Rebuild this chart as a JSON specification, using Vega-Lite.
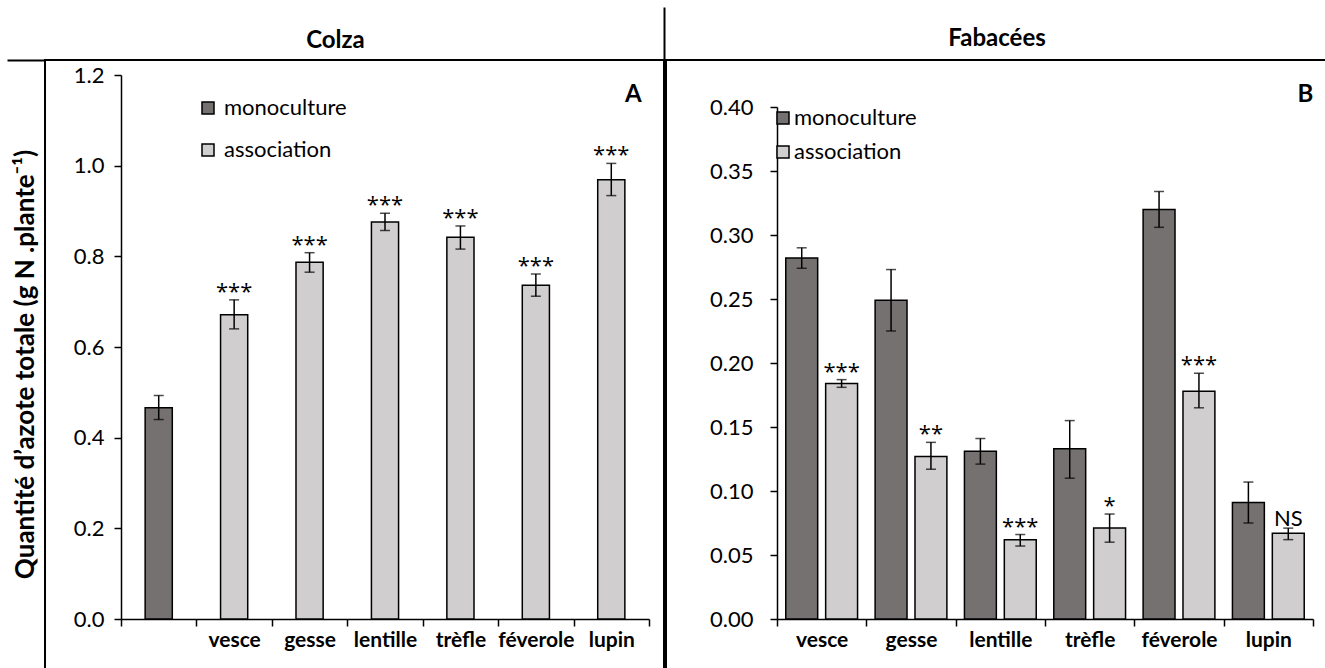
{
  "$schema": "https://vega.github.io/schema/vega-lite/v6.json",
  "background": "white",
  "padding": {"left": 6, "top": 26, "right": 0, "bottom": 0},
  "datasets": {
    "colza": [
      {"cat": "colza", "type": "monoculture", "mean": 0.466, "lo": 0.440, "hi": 0.493, "sig": ""},
      {"cat": "vesce", "type": "association", "mean": 0.671, "lo": 0.640, "hi": 0.704, "sig": "***"},
      {"cat": "gesse", "type": "association", "mean": 0.787, "lo": 0.765, "hi": 0.808, "sig": "***"},
      {"cat": "lentille", "type": "association", "mean": 0.876, "lo": 0.857, "hi": 0.895, "sig": "***"},
      {"cat": "trèfle", "type": "association", "mean": 0.842, "lo": 0.816, "hi": 0.867, "sig": "***"},
      {"cat": "féverole", "type": "association", "mean": 0.736, "lo": 0.712, "hi": 0.761, "sig": "***"},
      {"cat": "lupin", "type": "association", "mean": 0.969, "lo": 0.934, "hi": 1.005, "sig": "***"}
    ],
    "fabacees": [
      {"cat": "vesce", "type": "monoculture", "mean": 0.282, "lo": 0.274, "hi": 0.290, "sig": ""},
      {"cat": "vesce", "type": "association", "mean": 0.184, "lo": 0.181, "hi": 0.187, "sig": "***"},
      {"cat": "gesse", "type": "monoculture", "mean": 0.249, "lo": 0.225, "hi": 0.273, "sig": ""},
      {"cat": "gesse", "type": "association", "mean": 0.127, "lo": 0.117, "hi": 0.138, "sig": "**"},
      {"cat": "lentille", "type": "monoculture", "mean": 0.131, "lo": 0.121, "hi": 0.141, "sig": ""},
      {"cat": "lentille", "type": "association", "mean": 0.062, "lo": 0.057, "hi": 0.066, "sig": "***"},
      {"cat": "trèfle", "type": "monoculture", "mean": 0.133, "lo": 0.110, "hi": 0.155, "sig": ""},
      {"cat": "trèfle", "type": "association", "mean": 0.071, "lo": 0.060, "hi": 0.082, "sig": "*"},
      {"cat": "féverole", "type": "monoculture", "mean": 0.320, "lo": 0.306, "hi": 0.334, "sig": ""},
      {"cat": "féverole", "type": "association", "mean": 0.178, "lo": 0.165, "hi": 0.192, "sig": "***"},
      {"cat": "lupin", "type": "monoculture", "mean": 0.091, "lo": 0.075, "hi": 0.107, "sig": ""},
      {"cat": "lupin", "type": "association", "mean": 0.067, "lo": 0.062, "hi": 0.071, "sig": "NS"}
    ]
  },
  "config": {
    "font": "Lato",
    "view": {"stroke": "black", "strokeWidth": 2},
    "axis": {
      "domainColor": "black", "domainWidth": 1.5, "tickColor": "black", "tickWidth": 1.5, "tickSize": 7,
      "labelColor": "black", "labelFont": "Lato", "labelFontSize": 22, "grid": false, "titleColor": "black"
    },
    "title": {"font": "Lato", "fontSize": 24, "fontWeight": "bold", "color": "black"},
    "legend": {
      "title": null, "orient": "none", "labelFont": "Lato", "labelFontSize": 22, "labelColor": "black",
      "symbolType": "square", "symbolSize": 144, "symbolStrokeColor": "black", "symbolStrokeWidth": 1.5,
      "padding": 0
    }
  },
  "spacing": 0,
  "resolve": {"scale": {"color": "independent"}, "legend": {"color": "independent"}},
  "hconcat": [
    {
      "width": 619,
      "height": 609,
      "title": {"text": "Colza", "anchor": "middle", "frame": "group", "dx": -19, "offset": -18, "baseline": "alphabetic"},
      "resolve": {"scale": {"x": "independent", "y": "independent"}},
      "layer": [
        {
          "data": {"name": "colza"},
          "encoding": {
            "x": {
              "field": "cat", "type": "nominal",
              "sort": ["colza", "vesce", "gesse", "lentille", "trèfle", "féverole", "lupin"],
              "scale": {"range": [76, 604], "paddingInner": 0, "paddingOuter": 0},
              "axis": {
                "title": null, "orient": "bottom", "offset": -50, "tickBand": "extent", "labelAngle": 0,
                "labelExpr": "datum.value == 'colza' ? '' : datum.value",
                "labelFontWeight": "bold", "labelFontSize": 21, "labelPadding": 3
              }
            }
          },
          "layer": [
            {
              "mark": {"type": "bar", "width": {"band": 0.36}, "stroke": "black", "strokeWidth": 1.5},
              "encoding": {
                "y": {
                  "field": "mean", "type": "quantitative",
                  "scale": {"domain": [0, 1.2], "range": [559, 15], "nice": false},
                  "axis": {
                    "values": [0, 0.2, 0.4, 0.6, 0.8, 1.0, 1.2], "format": ".1f", "offset": -76, "labelPadding": 10,
                    "title": "Quantité d’azote totale (g N .plante⁻¹)",
                    "titleFont": "Lato", "titleFontSize": 26, "titleFontWeight": "bold",
                    "titleX": -96, "titleY": 304, "titleAngle": 270, "titleAlign": "center", "titleBaseline": "middle"
                  }
                },
                "color": {
                  "field": "type", "type": "nominal",
                  "scale": {"domain": ["monoculture", "association"], "range": ["#767171", "#D0CECE"]},
                  "legend": {"legendX": 152, "legendY": 37, "rowPadding": 20, "labelOffset": 5}
                }
              }
            },
            {
              "mark": {"type": "rule", "color": "black", "strokeWidth": 1.5},
              "encoding": {"y": {"field": "lo", "type": "quantitative"}, "y2": {"field": "hi"}}
            },
            {
              "mark": {"type": "tick", "color": "black", "thickness": 1.5, "size": 10},
              "encoding": {"y": {"field": "lo", "type": "quantitative"}}
            },
            {
              "mark": {"type": "tick", "color": "black", "thickness": 1.5, "size": 10},
              "encoding": {"y": {"field": "hi", "type": "quantitative"}}
            },
            {
              "mark": {"type": "text", "font": "Open Sans", "fontSize": 22, "baseline": "alphabetic", "align": "center", "dy": -1, "color": "black"},
              "encoding": {"y": {"field": "hi", "type": "quantitative"}, "text": {"field": "sig"}}
            },
            {
              "data": {"values": [{}]},
              "mark": {"type": "text", "font": "Lato", "fontSize": 24, "fontWeight": "bold", "baseline": "middle", "align": "center", "dx": 22, "color": "black"},
              "encoding": {"x": {"datum": "lupin"}, "y": {"datum": 1.156}, "text": {"value": "A"}}
            }
          ]
        },
        {
          "data": {"values": [{}]},
          "mark": {"type": "text", "text": ""},
          "encoding": {
            "x": {
              "datum": 0, "type": "quantitative",
              "scale": {"domain": [0, 1], "range": [-38, 0]},
              "axis": {"orient": "top", "labels": false, "ticks": false, "title": null, "domainWidth": 2, "domainColor": "black"}
            },
            "y": {
              "datum": 0, "type": "quantitative",
              "scale": {"domain": [0, 1], "range": [0, -53]},
              "axis": {"orient": "right", "labels": false, "ticks": false, "title": null, "domainWidth": 2, "domainColor": "black"}
            }
          }
        }
      ]
    },
    {
      "width": 662,
      "height": 609,
      "title": {"text": "Fabacées", "anchor": "middle", "frame": "group", "offset": -10, "baseline": "alphabetic"},
      "data": {"name": "fabacees"},
      "encoding": {
        "x": {
          "field": "cat", "type": "nominal",
          "sort": ["vesce", "gesse", "lentille", "trèfle", "féverole", "lupin"],
          "scale": {"range": [111, 647], "paddingInner": 0, "paddingOuter": 0},
          "axis": {
            "title": null, "orient": "bottom", "offset": -50, "tickBand": "extent", "labelAngle": 0,
            "labelFontWeight": "bold", "labelFontSize": 21, "labelPadding": 3
          }
        },
        "xOffset": {
          "field": "type", "type": "nominal", "sort": ["monoculture", "association"],
          "scale": {"paddingInner": 0.2, "paddingOuter": 0.22}
        }
      },
      "layer": [
        {
          "mark": {"type": "bar", "stroke": "black", "strokeWidth": 1.5},
          "encoding": {
            "y": {
              "field": "mean", "type": "quantitative",
              "scale": {"domain": [0, 0.4], "range": [559, 47], "nice": false},
              "axis": {
                "values": [0, 0.05, 0.1, 0.15, 0.2, 0.25, 0.3, 0.35, 0.4], "format": ".2f", "offset": -111,
                "labelPadding": 17, "title": null
              }
            },
            "color": {
              "field": "type", "type": "nominal",
              "scale": {"domain": ["monoculture", "association"], "range": ["#767171", "#D0CECE"]},
              "legend": {"legendX": 106, "legendY": 47, "rowPadding": 12, "labelOffset": 0}
            }
          }
        },
        {
          "mark": {"type": "rule", "color": "black", "strokeWidth": 1.5},
          "encoding": {"y": {"field": "lo", "type": "quantitative"}, "y2": {"field": "hi"}}
        },
        {
          "mark": {"type": "tick", "color": "black", "thickness": 1.5, "size": 10},
          "encoding": {"y": {"field": "lo", "type": "quantitative"}}
        },
        {
          "mark": {"type": "tick", "color": "black", "thickness": 1.5, "size": 10},
          "encoding": {"y": {"field": "hi", "type": "quantitative"}}
        },
        {
          "transform": [{"filter": "datum.sig != 'NS'"}],
          "mark": {"type": "text", "font": "Open Sans", "fontSize": 22, "baseline": "alphabetic", "align": "center", "dy": -1, "color": "black"},
          "encoding": {"y": {"field": "hi", "type": "quantitative"}, "text": {"field": "sig"}}
        },
        {
          "transform": [{"filter": "datum.sig == 'NS'"}],
          "mark": {"type": "text", "font": "Lato", "fontSize": 22, "baseline": "alphabetic", "align": "center", "dy": -2, "color": "black"},
          "encoding": {"y": {"field": "hi", "type": "quantitative"}, "text": {"field": "sig"}}
        },
        {
          "data": {"values": [{}]},
          "mark": {"type": "text", "font": "Lato", "fontSize": 24, "fontWeight": "bold", "baseline": "middle", "align": "center", "dx": 37, "color": "black"},
          "encoding": {"x": {"datum": "lupin"}, "xOffset": null, "y": {"datum": 0.409}, "text": {"value": "B"}}
        }
      ]
    }
  ]
}
